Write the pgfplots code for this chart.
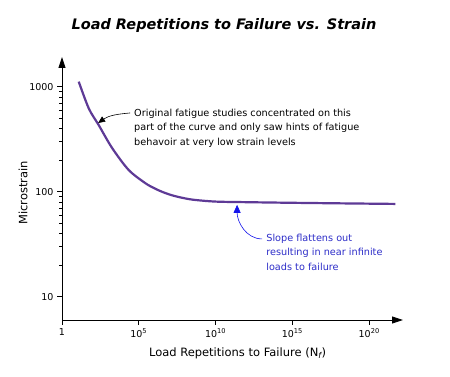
\documentclass[border=0pt]{standalone}
\usepackage{pgfplots}
\pgfplotsset{compat=1.18}
\usetikzlibrary{arrows.meta}
\usepackage{fontspec}
\setmainfont{DejaVu Sans}
\definecolor{curve}{RGB}{94,58,150}
\definecolor{annblue}{RGB}{45,45,200}
\definecolor{arrblue}{RGB}{20,20,235}
\begin{document}
\begin{tikzpicture}[x=1pt,y=1pt]
\path (0,0) rectangle (450,376);
\node[font=\fontsize{14.5}{16}\selectfont\bfseries\itshape] at (224,351) {Load Repetitions to Failure vs. Strain};
\begin{axis}[
  at={(62pt,56pt)}, anchor=south west,
  scale only axis, width=341pt, height=263pt,
  xmode=log, ymode=log,
  xmin=1, xmax=1.58e22, ymin=6, ymax=1918,
  axis x line=bottom, axis y line=left,
  axis line style={line width=0.9pt, -{Triangle[length=11pt,width=7pt]}},
  tick align=outside, major tick length=5pt,
  tick style={line width=0.7pt, black},
  xtick={1,1e5,1e10,1e15,1e20},
  xticklabels={1,10\textsuperscript{5},10\textsuperscript{10},10\textsuperscript{15},10\textsuperscript{20}},
  ytick={10,100,1000},
  yticklabels={10,100,1000},
  minor xtick={}, minor ytick={},
  ticklabel style={font=\fontsize{9.5}{11}\selectfont},
  xlabel={Load Repetitions to Failure (N\textsubscript{\itshape f})},
  ylabel={Microstrain},
  label style={font=\fontsize{11.5}{13}\selectfont},
  xlabel style={at={(axis description cs:0.515,-0.1255)}, anchor=center},
  ylabel style={at={(axis description cs:-0.1144,0.483)}, anchor=center},
  clip=false,
]
\addplot[color=curve, line width=2.2pt, smooth] table {
x y
12.3 1117
55 622
245 431
1820 261
2.19e4 161
2.57e5 121
1e6 108
3.16e6 100
1e7 94
3.98e7 89
3.16e8 84
1e10 80.5
1e12 79.5
2.5e14 78.6
1e18 77.5
5e21 76.5
};
\draw[-{Triangle[length=7pt,width=6pt]}, line width=0.6pt] (axis cs:2.7e4,562) to[out=185,in=35] (axis cs:224,451);
\node[anchor=west, align=left, inner sep=0pt, font=\fontsize{9.7}{14.5}\selectfont] at (axis cs:4.9e4,404)
  {Original fatigue studies concentrated on this\\part of the curve and only saw hints of fatigue\\behavoir at very low strain levels};
\draw[arrblue, -{Triangle[length=8pt,width=7pt]}, line width=0.6pt] (axis cs:1.07e13,35.5) to[out=180,in=-90] (axis cs:2.5e11,75);
\node[anchor=west, align=left, inner sep=0pt, text=annblue, font=\fontsize{9.7}{14.5}\selectfont] at (axis cs:1.95e13,26.7)
  {Slope flattens out\\resulting in near infinite\\loads to failure};
\end{axis}
\end{tikzpicture}
\end{document}
